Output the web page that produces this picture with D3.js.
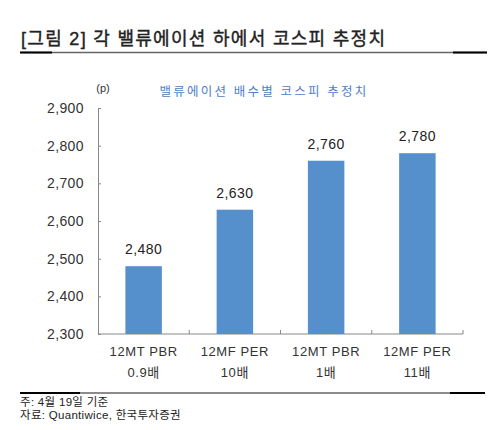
<!DOCTYPE html>
<html lang="ko">
<head>
  <meta charset="UTF-8">
  <title>코스피 추정치</title>
  <style>
    body { margin: 0; background: #fff; }
    text { font-family: "Liberation Sans", "Noto Sans CJK KR", sans-serif; }
  </style>
</head>
<body>
  <svg id="svg" width="498" height="430"></svg>

  <script src="https://d3js.org/d3.v7.min.js"></script>
  <script>
    const categories = [['12MT PBR', '0.9배'], ['12MF PER', '10배'], ['12MT PBR', '1배'], ['12MF PER', '11배']]
    const values = [2480, 2630, 2760, 2780]
    const yTicks = [2300, 2400, 2500, 2600, 2700, 2800, 2900]

    const svg = d3.select('#svg')
    const fmt = d3.format(',')

    // title + rule
    svg.append('text')
      .attr('x', 21).attr('y', 45)
      .attr('font-size', '18px')
      .attr('letter-spacing', '1.3px')
      .attr('fill', '#222')
      .attr('stroke', '#222').attr('stroke-width', 0.4)
      .text('[그림 2] 각 밸류에이션 하에서 코스피 추정치')
    svg.append('line')
      .attr('x1', 20).attr('x2', 487).attr('y1', 52.5).attr('y2', 52.5)
      .attr('stroke', '#666').attr('stroke-width', 1.5)
    svg.append('line')
      .attr('x1', 20).attr('x2', 52).attr('y1', 52.5).attr('y2', 52.5)
      .attr('stroke', '#000').attr('stroke-width', 2)
    svg.append('line')
      .attr('x1', 453).attr('x2', 487).attr('y1', 52.5).attr('y2', 52.5)
      .attr('stroke', '#000').attr('stroke-width', 2)

    const x = d3.scaleBand()
      .domain(d3.range(categories.length))
      .range([98, 463])
      .paddingInner(0)
    const y = d3.scaleLinear()
      .domain([2300, 2900])
      .range([334, 108])

    // y axis
    const yAxis = svg.append('g')
      .attr('transform', 'translate(98,0)')
      .call(d3.axisLeft(y).tickValues(yTicks).tickFormat(fmt).tickSizeInner(-3).tickSizeOuter(-3).tickPadding(14))
    yAxis.select('.domain').attr('stroke', '#888')
    yAxis.selectAll('.tick line').attr('stroke', '#888')
    yAxis.selectAll('text')
      .attr('font-size', '14px')
      .attr('letter-spacing', '0.4px')
      .attr('fill', '#333')
      .style('font-family', '"Liberation Sans", sans-serif')

    // x axis
    const xAxisG = svg.append('g')
    xAxisG.append('line')
      .attr('x1', 98).attr('x2', 463).attr('y1', 334).attr('y2', 334)
      .attr('stroke', '#888')
    xAxisG.selectAll('line.tk')
      .data(d3.range(1, categories.length + 1))
      .enter()
      .append('line')
      .attr('class', 'tk')
      .attr('x1', d => x(d - 1) + x.bandwidth())
      .attr('x2', d => x(d - 1) + x.bandwidth())
      .attr('y1', 334).attr('y2', 330)
      .attr('stroke', '#888')

    // bars
    const barW = x.bandwidth() * 0.4
    svg.selectAll('rect.bar')
      .data(values)
      .enter()
      .append('rect')
      .attr('class', 'bar')
      .attr('x', (d, i) => x(i) + (x.bandwidth() - barW) / 2)
      .attr('width', barW)
      .attr('y', d => y(d))
      .attr('height', d => 334 - y(d))
      .attr('fill', '#5690cc')

    // value labels
    svg.selectAll('text.val')
      .data(values)
      .enter()
      .append('text')
      .attr('class', 'val')
      .attr('x', (d, i) => x(i) + x.bandwidth() / 2)
      .attr('y', d => y(d) - 12)
      .attr('text-anchor', 'middle')
      .attr('font-size', '14px')
      .attr('letter-spacing', '0.4px')
      .attr('fill', '#222')
      .text(d => fmt(d))

    // category labels
    const cat = svg.selectAll('g.cat')
      .data(categories)
      .enter()
      .append('g')
      .attr('class', 'cat')
    cat.append('text')
      .attr('x', (d, i) => x(i) + x.bandwidth() / 2)
      .attr('y', 356)
      .attr('text-anchor', 'middle')
      .attr('font-size', '13px')
      .attr('letter-spacing', '0.6px')
      .attr('fill', '#333')
      .text(d => d[0])
    cat.append('text')
      .attr('x', (d, i) => x(i) + x.bandwidth() / 2)
      .attr('y', 377)
      .attr('text-anchor', 'middle')
      .attr('font-size', '13px')
      .attr('letter-spacing', '0.6px')
      .attr('fill', '#333')
      .text(d => d[1])

    // unit + inner title
    svg.append('text')
      .attr('x', 103).attr('y', 92)
      .attr('text-anchor', 'middle')
      .attr('font-size', '11px')
      .attr('fill', '#333')
      .text('(p)')
    svg.append('text')
      .attr('x', 264).attr('y', 96)
      .attr('text-anchor', 'middle')
      .attr('font-size', '12.5px')
      .attr('letter-spacing', '2.2px')
      .attr('fill', '#4f81c7')
      .text('밸류에이션 배수별 코스피 추정치')

    // bottom rule + notes
    svg.append('line')
      .attr('x1', 20).attr('x2', 485).attr('y1', 393).attr('y2', 393)
      .attr('stroke', '#666').attr('stroke-width', 1.5)
    svg.append('line')
      .attr('x1', 20).attr('x2', 80).attr('y1', 393).attr('y2', 393)
      .attr('stroke', '#000').attr('stroke-width', 2)
    svg.append('line')
      .attr('x1', 450).attr('x2', 485).attr('y1', 393).attr('y2', 393)
      .attr('stroke', '#000').attr('stroke-width', 2)
    svg.append('text')
      .attr('x', 20).attr('y', 406)
      .attr('font-size', '11.5px')
      .attr('letter-spacing', '0.3px')
      .attr('fill', '#222')
      .text('주: 4월 19일 기준')
    svg.append('text')
      .attr('x', 20).attr('y', 419)
      .attr('font-size', '11.5px')
      .attr('letter-spacing', '0.3px')
      .attr('fill', '#222')
      .text('자료: Quantiwice, 한국투자증권')
  </script>
</body>
</html>
